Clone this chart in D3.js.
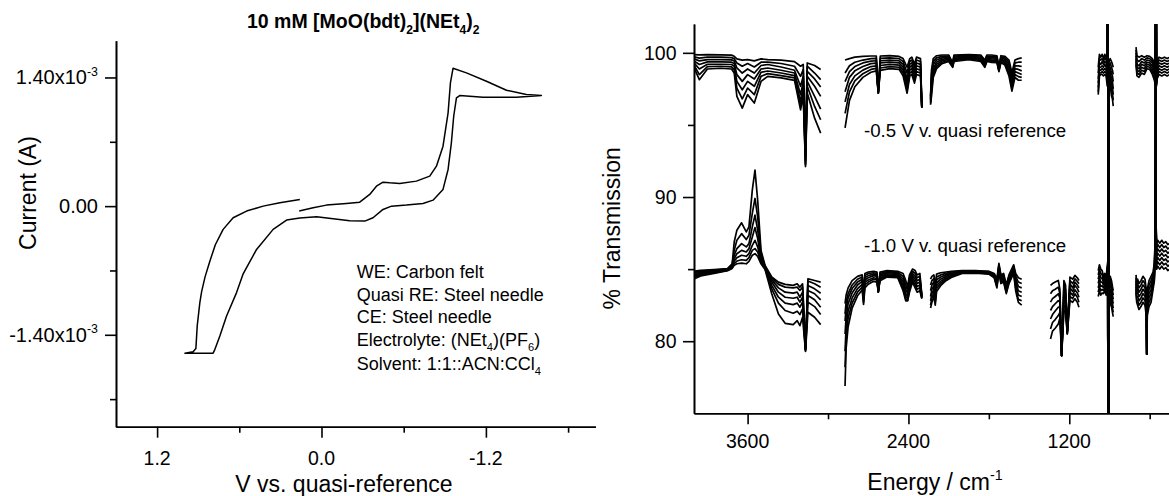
<!DOCTYPE html>
<html>
<head>
<meta charset="utf-8">
<script src="https://cdn.jsdelivr.net/npm/d3@7"></script>
<style>
  body { margin: 0; background: #fff; }
  text { font-family: Arial, "Liberation Sans", sans-serif; fill: #000; }
</style>
</head>
<body>
<svg width="1169" height="496"></svg>
<script>
// ---------- left panel: cyclic voltammogram ----------
const cvVolts = [
  0.158, 0.304, 0.426, 0.547, 0.645, 0.718, 0.775, 0.815, 0.850, 0.875, 0.888, 0.907, 0.917, 0.937, 0.997,
  0.900, 0.791, 0.778, 0.742, 0.693, 0.620, 0.573, 0.474, 0.353, 0.255, 0.158, 0.036, -0.085, -0.206, -0.316,
  -0.376, -0.449, -0.511, -0.620, -0.741, -0.814, -0.887, -0.924, -0.948, -0.965, -0.985, -1.009, -1.179, -1.423, -1.605,
  -1.495, -1.350, -1.204, -1.058, -0.960, -0.941, -0.924, -0.887, -0.839, -0.790, -0.693, -0.571, -0.498, -0.449,
  -0.401, -0.352, -0.279, -0.182, -0.036, 0.061, 0.163
];
const cvAmps = [
  0.073e-3, 0.037e-3, 0.000, -0.054e-3, -0.126e-3, -0.253e-3, -0.420e-3, -0.600e-3, -0.770e-3, -0.930e-3, -1.050e-3, -1.300e-3, -1.550e-3, -1.585e-3, -1.600e-3,
  -1.600e-3, -1.600e-3, -1.558e-3, -1.413e-3, -1.196e-3, -0.941e-3, -0.740e-3, -0.471e-3, -0.253e-3, -0.152e-3, -0.130e-3, -0.115e-3, -0.137e-3, -0.159e-3, -0.163e-3,
  -0.126e-3, -0.036e-3, 0.000, 0.011e-3, 0.029e-3, 0.065e-3, 0.182e-3, 0.399e-3, 0.689e-3, 0.978e-3, 1.178e-3, 1.203e-3, 1.185e-3, 1.185e-3, 1.203e-3,
  1.214e-3, 1.261e-3, 1.359e-3, 1.450e-3, 1.500e-3, 1.341e-3, 1.015e-3, 0.652e-3, 0.435e-3, 0.326e-3, 0.272e-3, 0.247e-3, 0.254e-3, 0.261e-3,
  0.217e-3, 0.127e-3, 0.043e-3, 0.029e-3, 0.011e-3, -0.017e-3, -0.054e-3
];
const cvMajorV = [1.2, 0.0, -1.2];
const cvMinorV = [0.6, -0.6, -1.8];
const cvMajorI = [1.4e-3, 0, -1.4e-3];
const cvMinorI = [0.7e-3, -0.7e-3, -2.1e-3];
const cvNotes = [
  [["WE: Carbon felt"]],
  [["Quasi RE: Steel needle"]],
  [["CE: Steel needle"]],
  [["Electrolyte: (NEt"], ["4", "sub"], [")(PF"], ["6", "sub"], [")"]],
  [["Solvent: 1:1::ACN:CCl"], ["4", "sub"]]
];

// ---------- right panel: IR spectra, 7 scans per potential ----------
// -0.5 V group
const irWnUA = [4000, 3960, 3900, 3800, 3720, 3700, 3680, 3640, 3600, 3550, 3500, 3450, 3350, 3250, 3205, 3185, 3168, 3155, 3100, 3055];
const irUpperA = [
  [99.88, 99.86, 99.88, 99.86, 99.84, 99.76, 99.58, 99.49, 99.53, 99.44, 99.58, 99.53, 99.49, 99.39, 99.07, 99.19, 93.27, 99.30, 99.12, 98.84],
  [99.72, 99.63, 99.70, 99.70, 99.67, 99.60, 99.30, 99.07, 99.26, 99.02, 99.35, 99.35, 99.26, 99.07, 98.37, 98.84, 93.04, 99.07, 98.60, 98.14],
  [99.58, 99.44, 99.53, 99.53, 99.51, 99.44, 98.95, 98.60, 98.88, 98.60, 99.12, 99.19, 99.02, 98.79, 97.68, 98.37, 92.80, 98.72, 98.19, 97.63],
  [99.44, 99.19, 99.37, 99.37, 99.35, 99.26, 98.49, 98.02, 98.49, 98.19, 98.88, 98.95, 98.79, 98.60, 97.10, 98.02, 92.57, 98.37, 97.68, 96.98],
  [99.30, 98.88, 99.21, 99.21, 99.19, 99.07, 98.02, 97.44, 98.02, 97.68, 98.65, 98.74, 98.60, 98.42, 96.63, 97.68, 92.34, 98.02, 96.98, 96.10],
  [99.14, 98.49, 99.05, 99.07, 99.02, 98.84, 97.56, 96.81, 97.56, 97.10, 98.37, 98.56, 98.42, 98.26, 96.28, 97.33, 92.22, 97.68, 96.28, 95.36],
  [98.98, 98.14, 98.88, 98.93, 98.88, 98.60, 96.98, 96.17, 97.10, 96.52, 98.02, 98.37, 98.26, 98.09, 96.05, 96.98, 92.11, 97.21, 95.47, 94.43]
];
const irWnUB = [2873, 2840, 2800, 2740, 2680, 2640, 2625, 2610, 2540, 2470, 2440, 2410, 2390, 2375, 2355, 2340, 2310, 2300];
const irUpperB = [
  [99.5, 99.6, 99.7, 99.75, 99.78, 99.78, 97.3, 99.78, 99.8, 99.75, 99.6, 99.0, 99.6, 99.7, 99.2, 99.7, 99.6, 96.3],
  [98.6, 99.1, 99.35, 99.5, 99.6, 99.62, 97.3, 99.62, 99.65, 99.6, 99.4, 98.6, 99.4, 99.5, 99.0, 99.5, 99.4, 96.3],
  [98.0, 98.7, 99.05, 99.3, 99.42, 99.45, 97.25, 99.45, 99.5, 99.45, 99.2, 98.2, 99.2, 99.3, 98.7, 99.3, 99.2, 96.2],
  [97.3, 98.3, 98.75, 99.05, 99.25, 99.28, 97.25, 99.3, 99.35, 99.3, 99.0, 97.9, 99.0, 99.1, 98.5, 99.1, 99.0, 96.2],
  [96.6, 97.8, 98.4, 98.8, 99.05, 99.1, 97.2, 99.12, 99.2, 99.15, 98.8, 97.6, 98.8, 98.9, 98.3, 98.9, 98.8, 96.2],
  [95.8, 97.3, 98.05, 98.55, 98.85, 98.92, 97.2, 98.95, 99.05, 99.0, 98.6, 97.4, 98.6, 98.7, 98.1, 98.7, 98.6, 96.2],
  [94.8, 96.7, 97.65, 98.3, 98.65, 98.75, 97.2, 98.78, 98.9, 98.85, 98.4, 97.2, 98.4, 98.5, 97.9, 98.5, 98.4, 96.2]
];
const irWnUC = [2235, 2228, 2215, 2190, 2150, 2100, 2070, 2060, 1950, 1860, 1830, 1815, 1780, 1740, 1725, 1710, 1680, 1650, 1628, 1605, 1580, 1555];
const irUpperC = [
  [97.0, 98.8, 99.6, 99.8, 99.85, 99.85, 99.3, 99.85, 99.88, 99.85, 99.5, 99.85, 99.85, 99.8, 99.0, 99.8, 99.75, 99.5, 98.6, 99.5, 99.6, 99.65],
  [96.9, 98.5, 99.4, 99.65, 99.75, 99.78, 99.25, 99.78, 99.82, 99.78, 99.4, 99.78, 99.76, 99.72, 98.95, 99.72, 99.65, 99.35, 98.4, 99.3, 99.35, 99.35],
  [96.8, 98.2, 99.2, 99.5, 99.65, 99.7, 99.2, 99.7, 99.76, 99.7, 99.3, 99.7, 99.67, 99.64, 98.9, 99.64, 99.55, 99.2, 98.2, 99.1, 99.1, 99.05],
  [96.7, 97.9, 98.9, 99.35, 99.55, 99.62, 99.15, 99.62, 99.7, 99.62, 99.2, 99.62, 99.58, 99.56, 98.85, 99.56, 99.45, 99.0, 97.95, 98.9, 98.85, 98.75],
  [96.6, 97.6, 98.7, 99.2, 99.45, 99.55, 99.1, 99.55, 99.64, 99.55, 99.1, 99.55, 99.5, 99.48, 98.8, 99.48, 99.35, 98.8, 97.75, 98.7, 98.6, 98.5],
  [96.5, 97.3, 98.5, 99.05, 99.35, 99.47, 99.05, 99.47, 99.58, 99.47, 99.05, 99.47, 99.42, 99.4, 98.75, 99.4, 99.25, 98.6, 97.55, 98.5, 98.35, 98.3],
  [96.4, 97.0, 98.3, 98.9, 99.25, 99.4, 99.0, 99.4, 99.52, 99.4, 99.0, 99.4, 99.34, 99.32, 98.7, 99.32, 99.15, 98.4, 97.35, 98.3, 98.1, 98.1]
];
const irWnUE = [984, 975, 965, 955, 945, 935, 925, 917, 913, 909, 905, 895, 885, 878, 872];
const irUpperE = [
  [99.0, 99.9, 99.7, 99.9, 99.6, 99.9, 99.7, 99.5, 110, 60, 99.3, 99.6, 99.4, 99.2, 99.0],
  [98.6, 99.6, 99.5, 99.6, 99.4, 99.7, 99.5, 99.2, 110, 60, 99.0, 99.3, 99.0, 98.8, 98.5],
  [98.2, 99.3, 99.2, 99.4, 99.2, 99.4, 99.3, 98.9, 110, 60, 98.7, 99.0, 98.6, 98.4, 98.0],
  [97.9, 99.0, 99.0, 99.1, 99.0, 99.2, 99.0, 98.6, 110, 60, 98.4, 98.7, 98.2, 98.0, 97.5],
  [97.6, 98.8, 98.8, 98.9, 98.8, 98.9, 98.8, 98.3, 110, 60, 98.1, 98.4, 97.8, 97.6, 97.1],
  [97.3, 98.6, 98.6, 98.7, 98.6, 98.7, 98.6, 98.0, 110, 60, 97.8, 98.1, 97.4, 97.2, 96.7],
  [97.1, 98.4, 98.5, 98.5, 98.4, 98.5, 98.4, 97.7, 110, 60, 97.5, 97.8, 97.0, 96.8, 96.3]
];
const irWnUF = [702, 695, 680, 660, 640, 620, 600, 580, 565, 556, 553, 549, 545, 530, 510, 490, 470, 450];
const irUpperF = [
  [100.4, 99.8, 99.7, 99.8, 99.7, 99.8, 99.75, 99.6, 99.3, 98.6, 110, 98.6, 99.4, 99.7, 99.6, 99.7, 99.6, 99.7],
  [100.2, 99.5, 99.4, 99.6, 99.5, 99.65, 99.6, 99.45, 99.1, 98.4, 110, 98.4, 99.2, 99.5, 99.4, 99.5, 99.4, 99.5],
  [100.0, 99.2, 99.1, 99.4, 99.3, 99.5, 99.45, 99.3, 98.9, 98.2, 110, 98.2, 99.0, 99.3, 99.2, 99.3, 99.2, 99.3],
  [99.8, 99.0, 98.9, 99.2, 99.1, 99.35, 99.3, 99.1, 98.7, 98.0, 110, 98.0, 98.8, 99.1, 99.0, 99.1, 99.0, 99.1],
  [99.6, 98.8, 98.7, 99.0, 98.9, 99.2, 99.15, 98.9, 98.5, 97.9, 110, 97.9, 98.6, 98.9, 98.8, 98.9, 98.8, 98.9],
  [99.4, 98.6, 98.5, 98.8, 98.7, 99.05, 99.0, 98.7, 98.3, 97.8, 110, 97.8, 98.4, 98.7, 98.6, 98.7, 98.6, 98.7],
  [99.2, 98.4, 98.3, 98.6, 98.5, 98.9, 98.85, 98.5, 98.1, 97.7, 110, 97.7, 98.2, 98.5, 98.4, 98.5, 98.4, 98.5]
];
// -1.0 V group
const irWnLA = [4000, 3950, 3850, 3750, 3715, 3700, 3680, 3645, 3610, 3590, 3565, 3545, 3525, 3500, 3470, 3420, 3370, 3320, 3260, 3230, 3210, 3190, 3168, 3150, 3100, 3055];
const irLowerA = [
  [84.86, 84.91, 84.96, 85.03, 85.37, 86.88, 87.70, 88.21, 87.58, 87.93, 90.48, 91.87, 89.78, 86.30, 85.26, 84.45, 84.10, 83.94, 83.87, 83.98, 83.75, 83.98, 79.57, 84.33, 84.21, 84.10],
  [84.77, 84.86, 84.93, 85.00, 85.33, 86.30, 87.00, 87.46, 87.05, 87.35, 88.86, 89.90, 88.62, 86.07, 85.21, 84.38, 83.94, 83.75, 83.70, 83.75, 83.52, 83.75, 79.53, 84.17, 83.98, 83.75],
  [84.68, 84.79, 84.89, 84.98, 85.26, 85.96, 86.42, 86.77, 86.54, 86.77, 87.93, 88.74, 87.70, 85.89, 85.17, 84.26, 83.70, 83.40, 83.33, 83.40, 83.05, 83.40, 79.48, 83.87, 83.63, 83.33],
  [84.59, 84.72, 84.84, 84.96, 85.19, 85.72, 86.07, 86.30, 86.19, 86.42, 87.23, 87.88, 87.12, 85.72, 85.12, 84.10, 83.40, 83.05, 82.98, 83.05, 82.71, 83.05, 79.43, 83.52, 83.29, 82.87],
  [84.49, 84.66, 84.79, 84.93, 85.14, 85.54, 85.79, 85.96, 85.89, 86.07, 86.65, 87.00, 86.54, 85.61, 85.07, 83.87, 83.05, 82.64, 82.54, 82.64, 82.36, 82.71, 79.39, 83.17, 82.87, 82.36],
  [84.40, 84.59, 84.75, 84.91, 85.10, 85.37, 85.56, 85.65, 85.61, 85.79, 86.30, 86.42, 86.19, 85.49, 85.03, 83.63, 82.64, 82.13, 81.94, 82.08, 81.85, 82.24, 79.34, 82.71, 82.40, 81.85],
  [84.31, 84.52, 84.70, 84.89, 85.05, 85.26, 85.37, 85.42, 85.37, 85.54, 85.96, 86.07, 85.89, 85.37, 84.98, 83.29, 81.89, 81.24, 81.15, 81.43, 81.08, 81.66, 79.29, 82.01, 81.66, 81.15]
];
const irWnLB = [2873, 2865, 2850, 2820, 2780, 2745, 2735, 2725, 2700, 2660, 2635, 2625, 2612, 2560, 2480, 2440, 2420, 2406, 2392, 2370, 2350, 2335, 2315, 2300];
const irLowerB = [
  [82.6, 83.2, 83.7, 84.2, 84.5, 84.6, 83.3, 84.7, 84.8, 84.85, 84.8, 83.5, 84.8, 84.9, 84.85, 84.7, 84.2, 83.8, 84.6, 85.0, 84.9, 84.6, 84.7, 83.2],
  [81.9, 82.7, 83.3, 83.9, 84.3, 84.45, 83.2, 84.55, 84.7, 84.75, 84.7, 83.5, 84.7, 84.82, 84.78, 84.5, 83.9, 83.5, 84.4, 84.85, 84.7, 84.4, 84.5, 83.15],
  [81.4, 82.3, 83.0, 83.65, 84.1, 84.3, 83.1, 84.4, 84.55, 84.65, 84.6, 83.45, 84.6, 84.75, 84.7, 84.3, 83.6, 83.3, 84.2, 84.7, 84.5, 84.2, 84.3, 83.1],
  [80.5, 81.7, 82.6, 83.35, 83.9, 84.15, 83.0, 84.25, 84.4, 84.55, 84.5, 83.45, 84.5, 84.68, 84.62, 84.1, 83.3, 83.1, 84.0, 84.55, 84.3, 84.0, 84.1, 83.05],
  [79.3, 81.0, 82.1, 83.0, 83.65, 83.95, 82.9, 84.1, 84.25, 84.4, 84.35, 83.4, 84.4, 84.6, 84.55, 83.9, 83.1, 82.95, 83.8, 84.4, 84.1, 83.8, 83.9, 83.0],
  [78.2, 80.3, 81.6, 82.65, 83.4, 83.75, 82.7, 83.9, 84.1, 84.3, 84.25, 83.4, 84.3, 84.52, 84.48, 83.7, 82.9, 82.85, 83.6, 84.25, 83.9, 83.6, 83.7, 83.0],
  [76.9, 79.5, 81.0, 82.3, 83.15, 83.55, 82.55, 83.7, 83.95, 84.15, 84.1, 83.4, 84.2, 84.45, 84.4, 83.5, 82.8, 82.8, 83.4, 84.1, 83.7, 83.4, 83.5, 82.95]
];
const irWnLC = [2235, 2225, 2210, 2200, 2190, 2160, 2120, 2080, 2000, 1900, 1800, 1760, 1740, 1725, 1710, 1690, 1670, 1650, 1630, 1615, 1600, 1580, 1555];
const irLowerC = [
  [84.3, 84.5, 84.6, 83.7, 84.65, 84.75, 84.8, 84.85, 84.9, 84.9, 84.85, 84.7, 84.3, 85.4, 84.6, 84.7, 83.9, 84.6, 85.0, 85.3, 84.7, 84.4, 84.3],
  [83.9, 84.2, 84.35, 83.5, 84.45, 84.6, 84.7, 84.8, 84.87, 84.87, 84.82, 84.65, 84.2, 85.3, 84.5, 84.6, 83.8, 84.5, 84.9, 85.2, 84.5, 84.1, 84.0],
  [83.5, 83.9, 84.1, 83.3, 84.25, 84.45, 84.6, 84.72, 84.83, 84.84, 84.78, 84.6, 84.1, 85.2, 84.4, 84.5, 83.7, 84.4, 84.8, 85.1, 84.3, 83.8, 83.7],
  [83.1, 83.6, 83.85, 83.1, 84.05, 84.3, 84.5, 84.65, 84.8, 84.81, 84.75, 84.55, 84.0, 85.1, 84.3, 84.4, 83.6, 84.3, 84.7, 85.0, 84.1, 83.5, 83.4],
  [82.8, 83.3, 83.6, 82.9, 83.85, 84.15, 84.4, 84.58, 84.77, 84.78, 84.72, 84.5, 83.9, 85.0, 84.2, 84.3, 83.5, 84.2, 84.6, 84.9, 83.9, 83.2, 83.1],
  [82.5, 83.0, 83.35, 82.7, 83.65, 84.0, 84.3, 84.5, 84.73, 84.75, 84.68, 84.45, 83.8, 84.9, 84.1, 84.2, 83.4, 84.1, 84.5, 84.8, 83.7, 82.9, 82.8],
  [82.3, 82.7, 83.1, 82.5, 83.45, 83.85, 84.2, 84.42, 84.7, 84.72, 84.65, 84.4, 83.7, 84.8, 84.0, 84.1, 83.3, 84.0, 84.4, 84.7, 83.5, 82.7, 82.5]
];
const irWnLD = [1340, 1325, 1305, 1282, 1270, 1257, 1240, 1228, 1215, 1195, 1175, 1158, 1140, 1128];
const irLowerD = [
  [83.87, 84.0, 84.1, 84.21, 83.6, 79.0, 84.21, 83.9, 80.7, 84.45, 84.3, 84.56, 84.4, 84.21],
  [83.29, 83.5, 83.6, 83.75, 83.3, 79.0, 83.87, 83.6, 80.7, 84.21, 84.0, 84.33, 84.15, 83.98],
  [82.71, 82.95, 83.1, 83.29, 83.0, 79.0, 83.52, 83.3, 80.6, 83.98, 83.7, 84.10, 83.9, 83.70],
  [82.13, 82.4, 82.6, 82.82, 82.7, 79.0, 83.17, 83.0, 80.6, 83.70, 83.45, 83.87, 83.65, 83.40],
  [81.54, 81.85, 82.1, 82.36, 82.4, 79.0, 82.82, 82.7, 80.6, 83.40, 83.2, 83.56, 83.35, 83.05],
  [80.85, 81.3, 81.5, 81.78, 82.0, 79.0, 82.47, 82.4, 80.5, 83.10, 82.95, 83.29, 83.05, 82.70],
  [80.15, 80.7, 80.9, 81.20, 81.6, 79.0, 82.12, 82.1, 80.5, 82.82, 82.7, 82.94, 82.7, 82.36]
];
const irWnLE = [984, 975, 965, 955, 945, 935, 925, 917, 913, 910, 906, 895, 885, 878, 872];
const irLowerE = [
  [84.9, 85.3, 85.0, 84.9, 84.5, 84.7, 84.4, 85.2, 85.5, 60, 84.0, 84.5, 84.2, 83.8, 83.5],
  [84.6, 85.0, 84.7, 84.6, 84.3, 84.5, 84.2, 85.0, 85.3, 60, 83.7, 84.2, 83.9, 83.5, 83.2],
  [84.3, 84.7, 84.4, 84.35, 84.1, 84.3, 84.0, 84.8, 85.1, 60, 83.4, 83.9, 83.6, 83.2, 82.9],
  [84.0, 84.4, 84.1, 84.1, 83.9, 84.1, 83.8, 84.6, 84.9, 60, 83.1, 83.6, 83.3, 82.9, 82.6],
  [83.7, 84.1, 83.8, 83.85, 83.7, 83.9, 83.6, 84.4, 84.7, 60, 82.8, 83.3, 83.0, 82.6, 82.3],
  [83.4, 83.8, 83.5, 83.6, 83.5, 83.7, 83.4, 84.2, 84.5, 60, 82.5, 83.0, 82.7, 82.3, 82.0],
  [83.1, 83.5, 83.2, 83.35, 83.3, 83.5, 83.2, 84.0, 84.3, 60, 82.2, 82.7, 82.4, 82.0, 81.7]
];
const irWnLF = [702, 697, 690, 680, 665, 650, 635, 625, 622, 618, 605, 590, 575, 565, 558, 555, 552, 548, 540, 525, 510, 495, 480, 465, 450];
const irLowerF = [
  [84.6, 83.9, 84.3, 84.0, 84.2, 84.5, 84.3, 83.5, 79.1, 83.6, 84.2, 84.5, 84.8, 85.4, 87.5, 110, 88.0, 86.8, 87.0, 86.8, 87.0, 86.8, 86.9, 86.7, 86.8],
  [84.4, 83.7, 84.0, 83.7, 83.9, 84.2, 84.0, 83.2, 79.1, 83.3, 83.9, 84.2, 84.6, 85.2, 87.3, 110, 87.8, 86.5, 86.7, 86.5, 86.7, 86.5, 86.6, 86.4, 86.5],
  [84.2, 83.5, 83.7, 83.4, 83.6, 83.9, 83.7, 82.9, 79.1, 83.0, 83.6, 83.9, 84.4, 85.0, 87.1, 110, 87.6, 86.2, 86.4, 86.2, 86.4, 86.2, 86.3, 86.1, 86.2],
  [84.0, 83.3, 83.4, 83.1, 83.3, 83.6, 83.4, 82.6, 79.1, 82.7, 83.3, 83.6, 84.2, 84.8, 86.9, 110, 87.4, 85.9, 86.1, 85.9, 86.1, 85.9, 86.0, 85.8, 85.9],
  [83.8, 83.1, 83.1, 82.8, 83.0, 83.3, 83.1, 82.3, 79.1, 82.4, 83.0, 83.3, 84.0, 84.6, 86.7, 110, 87.2, 85.6, 85.8, 85.6, 85.8, 85.6, 85.7, 85.5, 85.6],
  [83.6, 82.9, 82.8, 82.5, 82.7, 83.0, 82.8, 82.0, 79.1, 82.1, 82.7, 83.0, 83.8, 84.4, 86.5, 110, 87.0, 85.3, 85.5, 85.3, 85.5, 85.3, 85.4, 85.2, 85.3],
  [83.4, 82.7, 82.5, 82.2, 82.4, 82.7, 82.5, 81.7, 79.1, 81.8, 82.4, 82.7, 83.6, 84.2, 86.3, 110, 86.8, 85.0, 85.2, 85.0, 85.2, 85.0, 85.1, 84.9, 85.0]
];
const irMajorWn = [3600, 2400, 1200];
const irMinorWn = [3000, 1800, 600];
const irMajorT = [100, 90, 80];
const irMinorT = [95, 85];
const irNotes = ["-0.5 V v. quasi reference", "-1.0 V v. quasi reference"];

const irSegments = [
  [irWnUA, irUpperA], [irWnUB, irUpperB], [irWnUC, irUpperC], [irWnUE, irUpperE], [irWnUF, irUpperF],
  [irWnLA, irLowerA], [irWnLB, irLowerB], [irWnLC, irLowerC], [irWnLD, irLowerD], [irWnLE, irLowerE], [irWnLF, irLowerF]
];

const svg = d3.select("svg");

// text with sub/superscript parts
function richText(g, x, y, parts, size) {
  const t = g.append("text").attr("x", x).attr("y", y).style("font-size", size + "px");
  let shift = 0;
  parts.forEach(([s, kind]) => {
    const target = kind === "sub" ? size * 0.28 : kind === "sup" ? -size * 0.42 : 0;
    t.append("tspan")
      .attr("dy", target - shift)
      .style("font-size", kind ? (size * 0.62) + "px" : null)
      .text(s);
    shift = target;
  });
  return t;
}

function styleAxis(g) {
  g.selectAll("path, line").attr("stroke", "#000").attr("stroke-width", 1.6);
  g.selectAll("text").remove();
}

// ===== left panel =====
const cvX = d3.scaleLinear().domain([1.5, -2.0]).range([116, 595.5]);
const cvY = d3.scaleLinear().domain([-2.4e-3, 1.8e-3]).range([426.7, 40.7]);
const left = svg.append("g");

left.append("g").attr("transform", `translate(0,${cvY(-2.4e-3)})`)
  .call(d3.axisBottom(cvX).tickValues(cvMajorV).tickSize(11).tickSizeOuter(0))
  .call(styleAxis);
left.append("g").attr("transform", `translate(0,${cvY(-2.4e-3)})`)
  .call(d3.axisBottom(cvX).tickValues(cvMinorV).tickSize(6).tickSizeOuter(0))
  .call(styleAxis);
left.append("g").attr("transform", `translate(${cvX(1.5)},0)`)
  .call(d3.axisLeft(cvY).tickValues(cvMajorI).tickSize(11).tickSizeOuter(0))
  .call(styleAxis);
left.append("g").attr("transform", `translate(${cvX(1.5)},0)`)
  .call(d3.axisLeft(cvY).tickValues(cvMinorI).tickSize(6).tickSizeOuter(0))
  .call(styleAxis);

cvMajorV.forEach(v => {
  left.append("text").attr("x", cvX(v)).attr("y", 465)
    .attr("text-anchor", "middle").style("font-size", "19.5px").text(v.toFixed(1));
});
cvMajorI.forEach(i => {
  const parts = i === 0 ? [["0.00"]] : [[(i * 1e3).toFixed(2) + "x10"], ["-3", "sup"]];
  richText(left, 98, cvY(i) + 7, parts, 20).attr("text-anchor", "end");
});

left.append("path")
  .attr("d", d3.line().x(d => cvX(d)).y((d, k) => cvY(cvAmps[k]))(cvVolts))
  .attr("fill", "none").attr("stroke", "#000").attr("stroke-width", 1.5)
  .attr("stroke-linejoin", "round");

richText(left, 247, 28.3, [["10 mM [MoO(bdt)"], ["2", "sub"], ["](NEt"], ["4", "sub"], [")"], ["2", "sub"]], 19.5)
  .style("font-weight", "bold");

left.append("text").attr("transform", "translate(36,193) rotate(-90)")
  .attr("text-anchor", "middle").style("font-size", "23px").text("Current (A)");
left.append("text").attr("x", 344).attr("y", 491.7)
  .attr("text-anchor", "middle").style("font-size", "23px").text("V vs. quasi-reference");

const noteBase = [278.3, 300.7, 323.3, 346, 370];
cvNotes.forEach((parts, k) => richText(left, 356.7, noteBase[k], parts, 18));

// ===== right panel =====
const irX = d3.scaleLinear().domain([4000, 400]).range([694, 1176.5]);
const irY = d3.scaleLinear().domain([75, 102]).range([413.3, 24]);
const right = svg.append("g");

right.append("clipPath").attr("id", "irClip").append("rect")
  .attr("x", irX(4000)).attr("y", irY(102))
  .attr("width", irX(400) - irX(4000)).attr("height", irY(75) - irY(102));

const irLine = d3.line().x(d => irX(d[0])).y(d => irY(d[1]));
const spectra = right.append("g").attr("clip-path", "url(#irClip)");
irSegments.forEach(([wn, traces]) => {
  traces.forEach(tr => {
    spectra.append("path")
      .attr("d", irLine(d3.zip(wn, tr)))
      .attr("fill", "none").attr("stroke", "#000").attr("stroke-width", 1.7)
      .attr("stroke-linejoin", "round");
  });
});

right.append("g").attr("transform", `translate(0,${irY(75)})`)
  .call(d3.axisBottom(irX).tickValues(irMajorWn).tickSize(11).tickSizeOuter(0))
  .call(styleAxis);
right.append("g").attr("transform", `translate(0,${irY(75)})`)
  .call(d3.axisBottom(irX).tickValues(irMinorWn).tickSize(6).tickSizeOuter(0))
  .call(styleAxis);
right.append("g").attr("transform", `translate(${irX(4000)},0)`)
  .call(d3.axisLeft(irY).tickValues(irMajorT).tickSize(11).tickSizeOuter(0))
  .call(styleAxis);
right.append("g").attr("transform", `translate(${irX(4000)},0)`)
  .call(d3.axisLeft(irY).tickValues(irMinorT).tickSize(6).tickSizeOuter(0))
  .call(styleAxis);

irMajorWn.forEach(w => {
  right.append("text").attr("x", irX(w)).attr("y", 448.3)
    .attr("text-anchor", "middle").style("font-size", "19.5px").text(w);
});
irMajorT.forEach(t => {
  right.append("text").attr("x", 676.5).attr("y", irY(t) + 7)
    .attr("text-anchor", "end").style("font-size", "19.5px").text(t);
});

right.append("text").attr("transform", "translate(620,228.3) rotate(-90)")
  .attr("text-anchor", "middle").style("font-size", "23px").text("% Transmission");
richText(right, 867.3, 490, [["Energy / cm"], ["-1", "sup"]], 23);

richText(right, 864, 137.3, [[irNotes[0]]], 18.7);
richText(right, 864, 252.3, [[irNotes[1]]], 18.7);
</script>
</body>
</html>
